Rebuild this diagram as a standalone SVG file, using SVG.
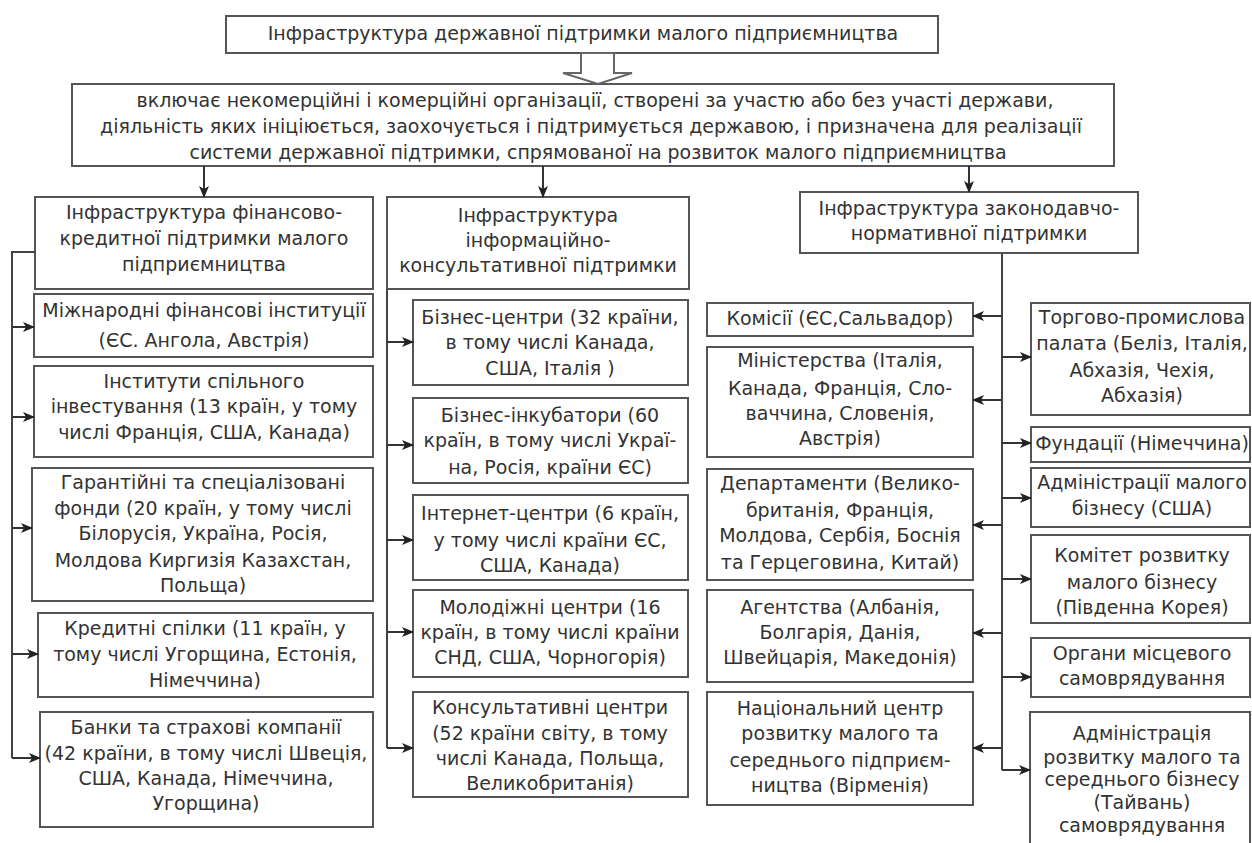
<svg xmlns="http://www.w3.org/2000/svg" width="1252" height="843" viewBox="0 0 1252 843">
<defs>
<marker id="ah" viewBox="0 0 12 10" refX="11" refY="5" markerWidth="13" markerHeight="10" markerUnits="userSpaceOnUse" orient="auto">
<path d="M0,0 L12,5 L0,10 L3,5 Z" fill="#222"/>
</marker>
<style>
.b{fill:#fff;stroke:#555;stroke-width:2}
.t{font-family:"DejaVu Sans","Liberation Sans",sans-serif;font-size:19px;fill:#333;text-anchor:middle}
.c{fill:none;stroke:#444;stroke-width:2}
.a{fill:none;stroke:#333;stroke-width:2;marker-end:url(#ah)}
</style>
</defs>
<rect width="1252" height="843" fill="#fff"/>

<g id="top">
<rect class="b" x="226" y="16" width="712" height="37"/>
<text class="t" x="583" y="40">Інфраструктура державної підтримки малого підприємництва</text>
</g>
<g id="def">
<rect class="b" x="72" y="84" width="1042" height="82"/>
<text class="t" x="595" y="107">включає некомерційні і комерційні організації, створені за участю або без участі держави,</text>
<text class="t" x="591" y="133">діяльність яких ініціюється, заохочується і підтримується державою, і призначена для реалізації</text>
<text class="t" x="598" y="159">системи державної підтримки, спрямованої на розвиток малого підприємництва</text>
</g>

<g id="hdr-fin">
<rect class="b" x="35" y="197" width="338" height="92"/>
<text class="t" x="204" y="219">Інфраструктура фінансово-</text>
<text class="t" x="204" y="245">кредитної підтримки малого</text>
<text class="t" x="204" y="271">підприємництва</text>
</g>
<g id="fin1">
<rect class="b" x="34" y="294" width="339" height="63"/>
<text class="t" x="204" y="317">Міжнародні фінансові інституції</text>
<text class="t" x="204" y="347">(ЄС. Ангола, Австрія)</text>
</g>
<g id="fin2">
<rect class="b" x="34" y="366" width="339" height="91"/>
<text class="t" x="204" y="388">Інститути спільного</text>
<text class="t" x="204" y="413">інвестування (13 країн, у тому</text>
<text class="t" x="204" y="439">числі Франція, США, Канада)</text>
</g>
<g id="fin3">
<rect class="b" x="32" y="468" width="341" height="133"/>
<text class="t" x="203" y="489">Гарантійні та спеціалізовані</text>
<text class="t" x="203" y="515">фонди (20 країн, у тому числі</text>
<text class="t" x="203" y="540">Білорусія, Україна, Росія,</text>
<text class="t" x="203" y="567">Молдова Киргизія Казахстан,</text>
<text class="t" x="203" y="592">Польща)</text>
</g>
<g id="fin4">
<rect class="b" x="38" y="613" width="335" height="84"/>
<text class="t" x="205" y="635">Кредитні спілки (11 країн, у</text>
<text class="t" x="205" y="661">тому числі Угорщина, Естонія,</text>
<text class="t" x="205" y="687">Німеччина)</text>
</g>
<g id="fin5">
<rect class="b" x="40" y="712" width="333" height="115"/>
<text class="t" x="206" y="734">Банки та страхові компанії</text>
<text class="t" x="206" y="760">(42 країни, в тому числі Швеція,</text>
<text class="t" x="206" y="785">США, Канада, Німеччина,</text>
<text class="t" x="206" y="810">Угорщина)</text>
</g>

<g id="hdr-inf">
<rect class="b" x="387" y="197" width="302" height="92"/>
<text class="t" x="538" y="222">Інфраструктура</text>
<text class="t" x="538" y="247">інформаційно-</text>
<text class="t" x="538" y="272">консультативної підтримки</text>
</g>
<g id="inf1">
<rect class="b" x="413" y="300" width="275" height="85"/>
<text class="t" x="550" y="324">Бізнес-центри (32 країни,</text>
<text class="t" x="550" y="349">в тому числі Канада,</text>
<text class="t" x="550" y="375">США, Італія )</text>
</g>
<g id="inf2">
<rect class="b" x="413" y="398" width="275" height="85"/>
<text class="t" x="550" y="422">Бізнес-інкубатори (60</text>
<text class="t" x="550" y="447">країн, в тому числі Украї-</text>
<text class="t" x="550" y="474">на, Росія, країни ЄС)</text>
</g>
<g id="inf3">
<rect class="b" x="413" y="495" width="275" height="85"/>
<text class="t" x="550" y="520">Інтернет-центри (6 країн,</text>
<text class="t" x="550" y="547">у тому числі країни ЄС,</text>
<text class="t" x="550" y="572">США, Канада)</text>
</g>
<g id="inf4">
<rect class="b" x="413" y="590" width="275" height="87"/>
<text class="t" x="550" y="614">Молодіжні центри (16</text>
<text class="t" x="550" y="639">країн, в тому числі країни</text>
<text class="t" x="550" y="664">СНД, США, Чорногорія)</text>
</g>
<g id="inf5">
<rect class="b" x="413" y="692" width="275" height="105"/>
<text class="t" x="550" y="714">Консультативні центри</text>
<text class="t" x="550" y="740">(52 країни світу, в тому</text>
<text class="t" x="550" y="765">числі Канада, Польща,</text>
<text class="t" x="550" y="790">Великобританія)</text>
</g>

<g id="hdr-law">
<rect class="b" x="800" y="192" width="338" height="61"/>
<text class="t" x="969" y="215">Інфраструктура законодавчо-</text>
<text class="t" x="969" y="240">нормативної підтримки</text>
</g>
<g id="law1">
<rect class="b" x="707" y="303" width="266" height="33"/>
<text class="t" x="840" y="325">Комісії (ЄС,Сальвадор)</text>
</g>
<g id="law2">
<rect class="b" x="707" y="347" width="266" height="110"/>
<text class="t" x="840" y="367">Міністерства (Італія,</text>
<text class="t" x="840" y="395">Канада, Франція, Сло-</text>
<text class="t" x="840" y="420">ваччина, Словенія,</text>
<text class="t" x="840" y="445">Австрія)</text>
</g>
<g id="law3">
<rect class="b" x="707" y="469" width="266" height="111"/>
<text class="t" x="840" y="490">Департаменти (Велико-</text>
<text class="t" x="840" y="517">британія, Франція,</text>
<text class="t" x="840" y="542">Молдова, Сербія, Боснія</text>
<text class="t" x="840" y="569">та Герцеговина, Китай)</text>
</g>
<g id="law4">
<rect class="b" x="707" y="590" width="266" height="92"/>
<text class="t" x="840" y="614">Агентства (Албанія,</text>
<text class="t" x="840" y="639">Болгарія, Данія,</text>
<text class="t" x="840" y="664">Швейцарія, Македонія)</text>
</g>
<g id="law5">
<rect class="b" x="707" y="692" width="266" height="113"/>
<text class="t" x="840" y="715">Національний центр</text>
<text class="t" x="840" y="740">розвитку малого та</text>
<text class="t" x="840" y="767">середнього підприєм-</text>
<text class="t" x="840" y="792">ництва (Вірменія)</text>
</g>

<g id="law6">
<rect class="b" x="1031" y="303" width="219" height="112"/>
<text class="t" x="1142" y="324">Торгово-промислова</text>
<text class="t" x="1142" y="350">палата (Беліз, Італія,</text>
<text class="t" x="1142" y="377">Абхазія, Чехія,</text>
<text class="t" x="1142" y="402">Абхазія)</text>
</g>
<g id="law7">
<rect class="b" x="1031" y="427" width="219" height="35"/>
<text class="t" x="1142" y="450">Фундації (Німеччина)</text>
</g>
<g id="law8">
<rect class="b" x="1031" y="468" width="219" height="59"/>
<text class="t" x="1142" y="489">Адміністрації малого</text>
<text class="t" x="1142" y="515">бізнесу (США)</text>
</g>
<g id="law9">
<rect class="b" x="1031" y="535" width="219" height="88"/>
<text class="t" x="1142" y="562">Комітет розвитку</text>
<text class="t" x="1142" y="589">малого бізнесу</text>
<text class="t" x="1142" y="614">(Південна Корея)</text>
</g>
<g id="law10">
<rect class="b" x="1031" y="638" width="219" height="59"/>
<text class="t" x="1142" y="660">Органи місцевого</text>
<text class="t" x="1142" y="685">самоврядування</text>
</g>
<g id="law11">
<rect class="b" x="1030" y="712" width="220" height="140"/>
<text class="t" x="1142" y="740">Адміністрація</text>
<text class="t" x="1142" y="764">розвитку малого та</text>
<text class="t" x="1142" y="786">середнього бізнесу</text>
<text class="t" x="1142" y="809">(Тайвань)</text>
<text class="t" x="1142" y="832">самоврядування</text>
</g>

<g id="connectors">
<polygon points="581,53 614,53 614,73 632,73 598,84 563,73 581,73" fill="#fff" stroke="#666" stroke-width="2"/>
<line class="a" x1="204" y1="166" x2="204" y2="197"/>
<line class="a" x1="543" y1="166" x2="543" y2="197"/>
<line class="a" x1="969" y1="166" x2="969" y2="192"/>
<polyline class="c" points="35,252 12,252 12,758"/>
<line class="a" x1="12" y1="327" x2="34" y2="327"/>
<line class="a" x1="12" y1="417" x2="34" y2="417"/>
<line class="a" x1="12" y1="528" x2="32" y2="528"/>
<line class="a" x1="12" y1="654" x2="38" y2="654"/>
<line class="a" x1="12" y1="758" x2="40" y2="758"/>
<line class="c" x1="387" y1="289" x2="387" y2="748"/>
<line class="a" x1="387" y1="342" x2="413" y2="342"/>
<line class="a" x1="387" y1="445" x2="413" y2="445"/>
<line class="a" x1="387" y1="540" x2="413" y2="540"/>
<line class="a" x1="387" y1="632" x2="413" y2="632"/>
<line class="a" x1="387" y1="748" x2="413" y2="748"/>
<line class="c" x1="1002" y1="253" x2="1002" y2="770"/>
<line class="a" x1="1002" y1="316" x2="973" y2="316"/>
<line class="a" x1="1002" y1="400" x2="973" y2="400"/>
<line class="a" x1="1002" y1="525" x2="973" y2="525"/>
<line class="a" x1="1002" y1="633" x2="973" y2="633"/>
<line class="a" x1="1002" y1="748" x2="973" y2="748"/>
<line class="a" x1="1002" y1="357" x2="1031" y2="357"/>
<line class="a" x1="1002" y1="443" x2="1031" y2="443"/>
<line class="a" x1="1002" y1="498" x2="1031" y2="498"/>
<line class="a" x1="1002" y1="579" x2="1031" y2="579"/>
<line class="a" x1="1002" y1="677" x2="1031" y2="677"/>
<line class="a" x1="1002" y1="770" x2="1030" y2="770"/>
</g>
</svg>
